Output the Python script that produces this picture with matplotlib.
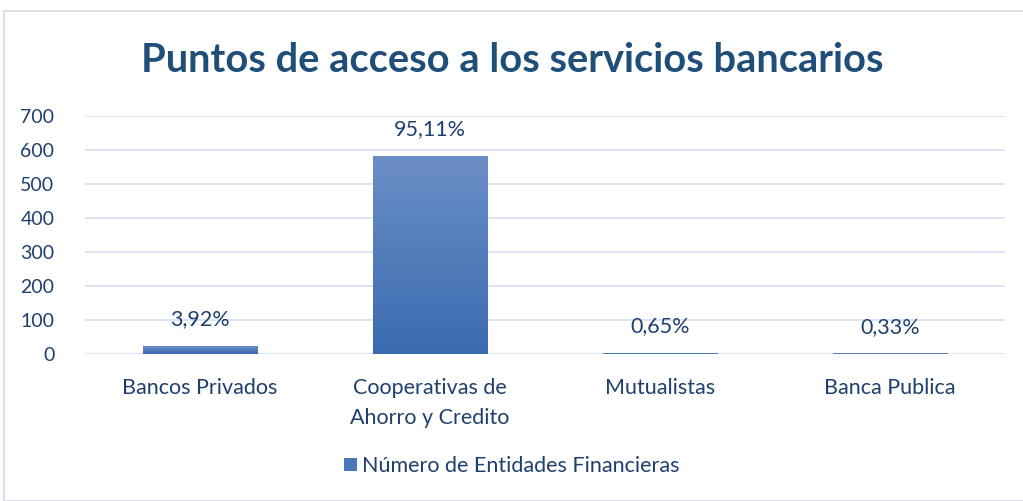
import matplotlib
matplotlib.use("Agg")
import matplotlib.pyplot as plt
import numpy as np
from matplotlib.patches import Rectangle
from matplotlib.colors import LinearSegmentedColormap

categories = ["Bancos Privados", "Cooperativas de\nAhorro y Credito", "Mutualistas", "Banca Publica"]
values = [24, 583, 4, 2]
labels = ["3,92%", "95,11%", "0,65%", "0,33%"]
series_name = "Número de Entidades Financieras"
yticks = [0, 100, 200, 300, 400, 500, 600, 700]

plt.rcParams['font.family'] = ['Lato', 'DejaVu Sans']
txt = "#1F3F6E"
W, H = 1023, 501
fig = plt.figure(figsize=(W/100, H/100), dpi=100)
fig.patch.set_facecolor("white")
fig.patches.append(Rectangle((4/W, 0), 1.2, 1 - 11/H, transform=fig.transFigure,
                             fill=False, edgecolor="#D6DCE5", linewidth=1.2))

ax = fig.add_axes([85/W, 1 - 354/H, 920/W, 238/H])
ax.set_xlim(-0.5, 3.5)
ax.set_ylim(0, 700)
ax.set_yticks(yticks)
ax.set_yticklabels([str(v) for v in yticks], fontsize=14, color=txt)
for y in yticks:
    ax.axhline(y, color="#D9E2F3", linewidth=1.3, zorder=0)
for s in ax.spines.values():
    s.set_visible(False)
ax.tick_params(axis='both', length=0)
ax.tick_params(axis='y', pad=22)
x = np.arange(len(categories))
ax.set_xticks(x)
ax.set_xticklabels(categories, fontsize=15.5, color=txt, linespacing=1.65)
ax.tick_params(axis='x', pad=17)

cmap = LinearSegmentedColormap.from_list("g", ["#3A6BAF", "#6B8FC7"])
grad = np.linspace(0, 1, 256).reshape(-1, 1)
bars = ax.bar(x, values, width=0.5, color="#4A78BB", zorder=2)
for b, lab in zip(bars, labels):
    bx, by, bw, bh = b.get_x(), b.get_y(), b.get_width(), b.get_height()
    im = ax.imshow(grad, cmap=cmap, aspect='auto', origin='lower',
                   extent=[bx, bx + bw, by, by + max(bh, 1e-6)], zorder=3)
    im.set_clip_path(b)
    ax.annotate(lab, (bx + bw/2, bh), xytext=(0, 12), textcoords="offset points",
                ha='center', va='bottom', fontsize=15.5, color=txt)
ax.set_xlim(-0.5, 3.5)
ax.set_ylim(0, 700)

fig.text(512/W, 1 - 61/H, "Puntos de acceso a los servicios bancarios",
         ha='center', va='center', fontsize=28.7, fontweight='bold', color="#1F4E79")

h = Rectangle((0, 0), 1, 1, facecolor="#4A78BB")
fig.legend([h], [series_name], loc='center', bbox_to_anchor=(512/W, 1 - 466/H),
           frameon=False, fontsize=15.5, labelcolor=txt, handlelength=0.6,
           handleheight=0.6, handletextpad=0.25)

fig.savefig("out.png", dpi=100, facecolor="white")
